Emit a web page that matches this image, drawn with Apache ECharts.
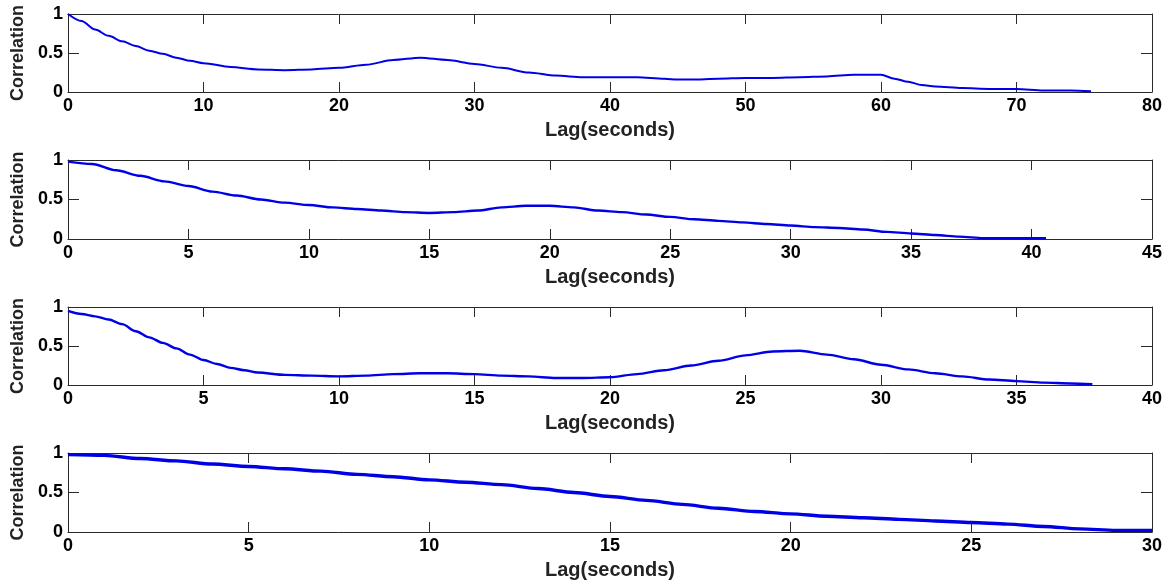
<!DOCTYPE html>
<html>
<head>
<meta charset="utf-8">
<title>Autocorrelation vs lag</title>
<script src="https://cdn.jsdelivr.net/npm/echarts@6/dist/echarts.min.js"></script>
<style>
  html, body { margin: 0; padding: 0; background: #ffffff; }
  #chart { width: 1174px; height: 584px; }
</style>
</head>
<body>
<div id="chart"></div>
<script>
// Autocorrelation of four recordings, lag in seconds
const lag1 = [0, 1, 2, 3, 4, 5, 6, 7, 8, 9, 10, 12, 14, 16, 18, 20, 22, 24, 26, 28, 30, 32, 34, 36, 38, 40, 42, 44, 45, 46, 48, 50, 52, 54, 56, 58, 60, 61, 62, 63, 64, 66, 68, 70, 72, 74, 75.5];
const corr1 = [1.0, 0.91, 0.80, 0.72, 0.65, 0.59, 0.53, 0.49, 0.44, 0.40, 0.37, 0.32, 0.29, 0.28, 0.29, 0.31, 0.35, 0.41, 0.44, 0.41, 0.36, 0.31, 0.25, 0.21, 0.19, 0.19, 0.19, 0.17, 0.16, 0.16, 0.17, 0.18, 0.18, 0.19, 0.20, 0.22, 0.22, 0.17, 0.13, 0.09, 0.07, 0.05, 0.04, 0.04, 0.02, 0.02, 0.01];

const lag2 = [0, 1, 2, 3, 4, 5, 6, 7, 8, 9, 10, 11, 12, 13, 14, 15, 16, 17, 18, 19, 20, 21, 22, 23, 24, 25, 26, 27, 28, 29, 30, 31, 32, 33, 34, 35, 36, 37, 38, 39, 40.6];
const corr2 = [0.98, 0.95, 0.87, 0.80, 0.73, 0.67, 0.60, 0.55, 0.50, 0.46, 0.43, 0.40, 0.38, 0.36, 0.34, 0.33, 0.34, 0.36, 0.40, 0.42, 0.42, 0.40, 0.36, 0.34, 0.31, 0.28, 0.25, 0.23, 0.21, 0.19, 0.17, 0.15, 0.14, 0.12, 0.09, 0.07, 0.05, 0.03, 0.01, 0.01, 0.01];

const lag3 = [0, 0.5, 1, 1.5, 2, 2.5, 3, 3.5, 4, 4.5, 5, 5.5, 6, 6.5, 7, 8, 9, 10, 11, 12, 13, 14, 15, 16, 17, 18, 19, 20, 21, 22, 23, 24, 25, 26, 27, 28, 29, 30, 31, 32, 33, 34, 35, 36, 37, 37.8];
const corr3 = [0.95, 0.91, 0.88, 0.84, 0.78, 0.69, 0.61, 0.54, 0.47, 0.39, 0.32, 0.27, 0.22, 0.19, 0.16, 0.13, 0.12, 0.11, 0.12, 0.14, 0.15, 0.15, 0.14, 0.12, 0.11, 0.09, 0.09, 0.10, 0.14, 0.19, 0.25, 0.31, 0.38, 0.43, 0.44, 0.39, 0.33, 0.26, 0.20, 0.15, 0.11, 0.07, 0.05, 0.03, 0.02, 0.01];

const lag4 = [0, 1, 2, 3, 4, 5, 6, 7, 8, 9, 10, 11, 12, 13, 14, 15, 16, 17, 18, 19, 20, 21, 22, 23, 24, 25, 26, 27, 28, 29, 30];
const corr4 = [0.98, 0.97, 0.93, 0.90, 0.86, 0.83, 0.80, 0.77, 0.73, 0.70, 0.66, 0.63, 0.60, 0.55, 0.50, 0.45, 0.40, 0.35, 0.30, 0.26, 0.23, 0.20, 0.18, 0.16, 0.14, 0.12, 0.10, 0.07, 0.04, 0.02, 0.02];

const xMax = [80, 45, 40, 30];
const xStep = [10, 5, 5, 5];
const yTicks = [0, 0.5, 1];

const lags = [lag1, lag2, lag3, lag4];
const corrs = [corr1, corr2, corr3, corr4];
const widths = [2, 2.4, 2.4, 3.4];

const gridTops = [14, 160, 307, 453];
const gridHeights = [78, 79, 78, 79];

const FONT = '"Liberation Sans", Arial, Helvetica, sans-serif';
const frame = '#2a2a2a';
const lineBlue = '#0000e6';

const grids = [], xAxes = [], yAxes = [], series = [];

for (let i = 0; i < 4; i++) {
  grids.push({ left: 68, right: 22, top: gridTops[i], height: gridHeights[i], containLabel: false });

  // bottom axis with labels and title
  xAxes.push({
    type: 'value', gridIndex: i, min: 0, max: xMax[i], interval: xStep[i],
    position: 'bottom',
    name: 'Lag(seconds)', nameLocation: 'middle', nameGap: 28,
    nameTextStyle: { fontFamily: FONT, fontWeight: 'bold', fontSize: 20, color: '#222' },
    axisLine: { show: true, onZero: false, lineStyle: { color: frame, width: 1 } },
    axisTick: { show: true, inside: true, length: 10, lineStyle: { color: frame } },
    axisLabel: { show: true, margin: 5, fontFamily: FONT, fontWeight: 'bold', fontSize: 18, color: '#000' },
    splitLine: { show: false }
  });
  // top edge of the box, ticks only
  xAxes.push({
    type: 'value', gridIndex: i, min: 0, max: xMax[i], interval: xStep[i],
    position: 'top',
    axisLine: { show: true, onZero: false, lineStyle: { color: frame, width: 1 } },
    axisTick: { show: true, inside: true, length: 10, lineStyle: { color: frame } },
    axisLabel: { show: false },
    splitLine: { show: false }
  });

  yAxes.push({
    type: 'value', gridIndex: i, min: yTicks[0], max: yTicks[2], interval: yTicks[1] - yTicks[0],
    position: 'left',
    name: 'Correlation', nameLocation: 'middle', nameGap: 40, nameRotate: 90,
    nameTextStyle: { fontFamily: FONT, fontWeight: 'bold', fontSize: 18, color: '#222' },
    axisLine: { show: true, onZero: false, lineStyle: { color: frame, width: 1 } },
    axisTick: { show: true, inside: true, length: 11, lineStyle: { color: frame } },
    axisLabel: { show: true, margin: 5, fontFamily: FONT, fontWeight: 'bold', fontSize: 18, color: '#000' },
    splitLine: { show: false }
  });
  yAxes.push({
    type: 'value', gridIndex: i, min: yTicks[0], max: yTicks[2], interval: yTicks[1] - yTicks[0],
    position: 'right',
    axisLine: { show: true, onZero: false, lineStyle: { color: frame, width: 1 } },
    axisTick: { show: true, inside: true, length: 11, lineStyle: { color: frame } },
    axisLabel: { show: false },
    splitLine: { show: false }
  });

  series.push({
    type: 'line',
    xAxisIndex: 2 * i, yAxisIndex: 2 * i,
    data: lags[i].map((x, k) => [x, corrs[i][k]]),
    showSymbol: false, symbol: 'none',
    smooth: 0.3, smoothMonotone: 'x',
    lineStyle: { color: lineBlue, width: widths[i] },
    animation: false,
    silent: true
  });
}

const chart = echarts.init(document.getElementById('chart'), null, { renderer: 'canvas' });
chart.setOption({
  backgroundColor: '#ffffff',
  animation: false,
  grid: grids,
  xAxis: xAxes,
  yAxis: yAxes,
  series: series
});
</script>
</body>
</html>
